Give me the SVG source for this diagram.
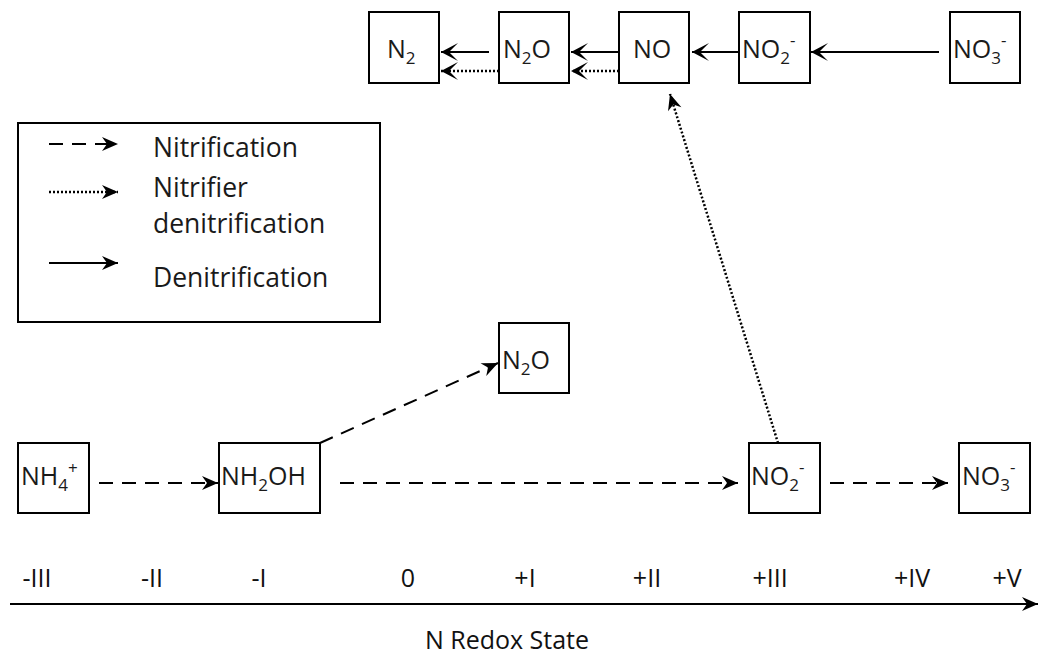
<svg xmlns="http://www.w3.org/2000/svg" width="1040" height="656" viewBox="0 0 1040 656">
<style>
.box{fill:#fff;stroke:#000;stroke-width:2}
.t{font-family:"Open Sans","DejaVu Sans",sans-serif;font-size:25px;fill:#1a1a1a}
.lt{font-family:"Open Sans","DejaVu Sans",sans-serif;font-size:26.5px;fill:#1a1a1a}
.ax{font-family:"Open Sans","DejaVu Sans",sans-serif;font-size:25px;fill:#111;text-anchor:middle}
.sub{font-size:17px}
.solid{stroke:#000;stroke-width:2;fill:none}
.dash{stroke:#000;stroke-width:2;fill:none;stroke-dasharray:14 9}
.dot{stroke:#000;stroke-width:2.5;fill:none;stroke-dasharray:2 2}
</style>
<defs>
<marker id="barb" markerUnits="userSpaceOnUse" markerWidth="18" markerHeight="16" refX="16" refY="7" orient="auto" overflow="visible">
<path d="M0,0 L16,7 L0,14 L5,7 Z" fill="#000"/>
</marker>
<marker id="chev" markerUnits="userSpaceOnUse" markerWidth="20" markerHeight="20" refX="17" refY="9" orient="auto" overflow="visible">
<path d="M0,0 L17,9 L0,18 L9,9 Z" fill="#000"/>
</marker>
</defs>

<g id="node-N2-top"><rect class="box" x="369" y="12" width="70" height="71"/><text class="t" x="387" y="58">N<tspan class="sub" dy="6">2</tspan></text></g>
<g id="node-N2O-top"><rect class="box" x="499" y="12" width="70" height="71"/><text class="t" x="503" y="58">N<tspan class="sub" dy="6">2</tspan><tspan dy="-6">O</tspan></text></g>
<g id="node-NO-top"><rect class="box" x="619" y="12" width="70" height="71"/><text class="t" x="633" y="58">NO</text></g>
<g id="node-NO2-top"><rect class="box" x="739" y="12" width="71" height="71"/><text class="t" x="742" y="58">NO<tspan class="sub" dy="6">2</tspan><tspan class="sub" dy="-18">-</tspan></text></g>
<g id="node-NO3-top"><rect class="box" x="950" y="12" width="70" height="71"/><text class="t" x="953" y="58">NO<tspan class="sub" dy="6">3</tspan><tspan class="sub" dy="-18">-</tspan></text></g>

<g id="node-N2O-low"><rect class="box" x="499" y="323" width="70" height="70"/><text class="t" x="502" y="369">N<tspan class="sub" dy="6">2</tspan><tspan dy="-6">O</tspan></text></g>
<g id="node-NH4"><rect class="box" x="18" y="443" width="71" height="70"/><text class="t" x="21" y="485">NH<tspan class="sub" dy="6">4</tspan><tspan class="sub" dy="-17">+</tspan></text></g>
<g id="node-NH2OH"><rect class="box" x="219" y="443" width="101" height="70"/><text class="t" x="221" y="485">NH<tspan class="sub" dy="6">2</tspan><tspan dy="-6">OH</tspan></text></g>
<g id="node-NO2-low"><rect class="box" x="749" y="443" width="71" height="70"/><text class="t" x="751" y="485">NO<tspan class="sub" dy="6">2</tspan><tspan class="sub" dy="-18">-</tspan></text></g>
<g id="node-NO3-low"><rect class="box" x="959" y="443" width="71" height="70"/><text class="t" x="962" y="485">NO<tspan class="sub" dy="6">3</tspan><tspan class="sub" dy="-18">-</tspan></text></g>

<g id="legend">
<rect class="box" x="18" y="123" width="362" height="199"/>
<line class="dash" x1="49" y1="144" x2="118" y2="144" marker-end="url(#barb)"/>
<line class="dot" x1="49" y1="192" x2="118" y2="192" marker-end="url(#barb)"/>
<line class="solid" x1="49" y1="263" x2="118" y2="263" marker-end="url(#barb)"/>
<text class="lt" x="153" y="157">Nitrification</text>
<text class="lt" x="153" y="197">Nitrifier</text>
<text class="lt" x="153" y="233">denitrification</text>
<text class="lt" x="153" y="287">Denitrification</text>
</g>

<g id="connectors">
<line class="solid" x1="489" y1="52" x2="441" y2="52" marker-end="url(#chev)"/>
<line class="dot" x1="499" y1="71" x2="441" y2="71" marker-end="url(#chev)"/>
<line class="solid" x1="619" y1="52" x2="571" y2="52" marker-end="url(#chev)"/>
<line class="dot" x1="619" y1="71" x2="571" y2="71" marker-end="url(#chev)"/>
<line class="solid" x1="739" y1="52" x2="692" y2="52" marker-end="url(#chev)"/>
<line class="solid" x1="939" y1="52" x2="811" y2="52" marker-end="url(#chev)"/>
<line class="dot" x1="778" y1="443" x2="670" y2="94" marker-end="url(#barb)"/>
<line class="dash" x1="99" y1="483" x2="218" y2="483" marker-end="url(#barb)"/>
<line class="dash" x1="320" y1="443" x2="498" y2="363" marker-end="url(#barb)"/>
<line class="dash" x1="340" y1="483" x2="738" y2="483" marker-end="url(#barb)"/>
<line class="dash" x1="830" y1="483" x2="948" y2="483" marker-end="url(#barb)"/>
</g>

<g id="axis">
<line class="solid" x1="10" y1="604" x2="1038" y2="604" stroke-width="2.5" marker-end="url(#barb)"/>
<text class="ax" x="37" y="587">-III</text>
<text class="ax" x="152" y="587">-II</text>
<text class="ax" x="259" y="587">-I</text>
<text class="ax" x="408" y="587">0</text>
<text class="ax" x="525" y="587">+I</text>
<text class="ax" x="647" y="587">+II</text>
<text class="ax" x="770" y="587">+III</text>
<text class="ax" x="912" y="587">+IV</text>
<text class="ax" x="1007" y="587">+V</text>
<text class="ax" x="507" y="649">N Redox State</text>
</g>
</svg>
